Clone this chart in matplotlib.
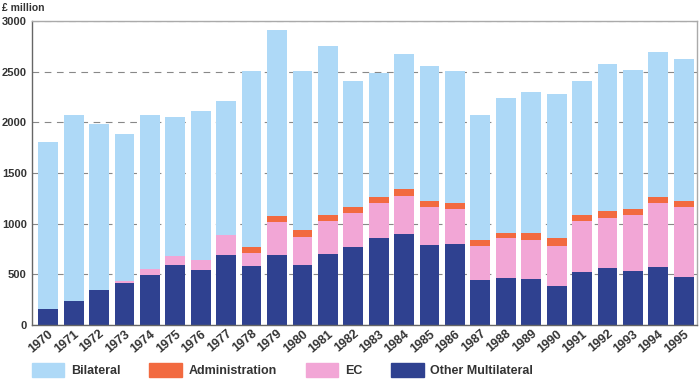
import matplotlib.pyplot as plt
import numpy as np
from matplotlib.patches import Patch

plt.rcParams['font.family'] = ['Liberation Sans', 'DejaVu Sans']

years = [str(y) for y in range(1970, 1996)]
# stacked component values, £ million
other_multi = [160, 237, 348, 415, 490, 589, 543, 688, 579, 688, 595, 698, 765,
               860, 895, 790, 795, 440, 460, 450, 385, 520, 560, 535, 575, 475]
ec = [0, 0, 0, 22, 66, 92, 102, 197, 135, 332, 277, 325, 337,
      340, 380, 375, 350, 340, 395, 390, 395, 505, 495, 550, 625, 685]
admin = [0, 0, 0, 0, 0, 0, 0, 0, 59, 59, 66, 66, 59,
         60, 65, 60, 55, 60, 55, 65, 75, 60, 65, 55, 65, 65]
totals = [1805, 2070, 1980, 1885, 2070, 2050, 2110, 2210, 2510, 2910, 2510, 2757, 2410,
          2485, 2670, 2560, 2510, 2070, 2235, 2295, 2275, 2410, 2580, 2520, 2690, 2620]

other_multi = np.array(other_multi)
ec = np.array(ec)
admin = np.array(admin)
bilateral = np.array(totals) - other_multi - ec - admin

c_bil = '#aed9f7'
c_adm = '#f26a40'
c_ec = '#f2a6d6'
c_oth = '#2f4190'
txt = '#333333'

fig = plt.figure(figsize=(7, 3.81), dpi=100)
ax = fig.add_axes([0.046, 0.147, 0.95, 0.798])

x = np.arange(len(years))
w = 0.78
ax.bar(x, other_multi, w, color=c_oth, zorder=2)
ax.bar(x, ec, w, bottom=other_multi, color=c_ec, zorder=2)
ax.bar(x, admin, w, bottom=other_multi + ec, color=c_adm, zorder=2)
ax.bar(x, bilateral, w, bottom=other_multi + ec + admin, color=c_bil, zorder=2)

ax.set_xlim(-0.63, 25.53)
ax.set_ylim(0, 3000)
ax.set_yticks(range(0, 3001, 500))
ax.yaxis.grid(True, linestyle=(0, (6, 5)), color='#888888', linewidth=0.8, zorder=0)
ax.set_xticks(x)
ax.set_xticklabels(years, rotation=40, ha='right', rotation_mode='anchor',
                   fontsize=9, fontweight='bold', color=txt)
for lab in ax.get_yticklabels():
    lab.set_fontweight('bold')
    lab.set_fontsize(8)
    lab.set_color(txt)
ax.tick_params(axis='y', length=0, pad=4)
ax.tick_params(axis='x', length=0, pad=2)
for s in ax.spines.values():
    s.set_color('#aaaaaa')
    s.set_linewidth(1)
ax.spines['left'].set_color('#666666')
ax.spines['bottom'].set_color('#666666')

fig.text(0.003, 0.993, '£ million', fontsize=7.5, fontweight='bold', color=txt,
         va='top', ha='left')

handles = [Patch(color=c_bil, label='Bilateral'),
           Patch(color=c_adm, label='Administration'),
           Patch(color=c_ec, label='EC'),
           Patch(color=c_oth, label='Other Multilateral')]
leg = fig.legend(handles=handles, loc='lower left', bbox_to_anchor=(0.038, -0.003),
                 ncol=4, frameon=False, fontsize=9, handlelength=2.6,
                 handleheight=1.3, handletextpad=0.55, columnspacing=2.3,
                 borderaxespad=0.0)
for t in leg.get_texts():
    t.set_fontweight('bold')
    t.set_color(txt)

fig.savefig('out.png', dpi=100)
